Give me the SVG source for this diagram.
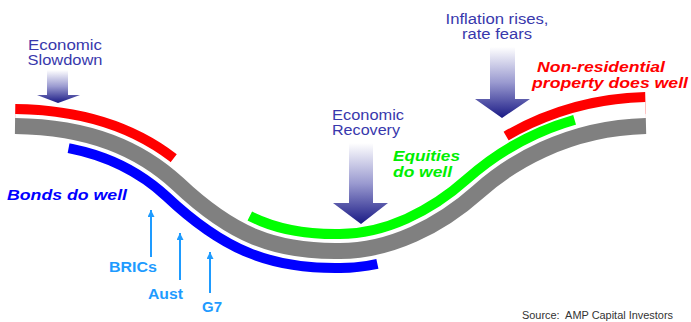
<svg xmlns="http://www.w3.org/2000/svg" width="691" height="322" viewBox="0 0 691 322">
<defs>
<style>
.lbl{font-family:"Liberation Sans",Arial,sans-serif;font-size:14px;fill:#3838ac}
.bi{font-family:"Liberation Sans",Arial,sans-serif;font-size:15px;font-weight:bold;font-style:italic}
.lb{font-family:"Liberation Sans",Arial,sans-serif;font-size:14px;font-weight:bold;fill:#1e9bff}
.src{font-family:"Liberation Sans",Arial,sans-serif;font-size:10px;fill:#333333}
.big{fill:url(#ag)}
.thin{stroke:#1e9bff;stroke-width:2;fill:none;marker-end:url(#ah)}
</style>
<path id="c" d="M15,126 C90,127 140,149 178,184 C232,235 275,252 340,251 C390,251 440,226 478,192 C508,165 565,128 646,126"/>
<clipPath id="up"><path d="M-20,126 L15,126 C90,127 140,149 178,184 C232,235 275,252 340,251 C390,251 440,226 478,192 C508,165 565,128 646,126 L720,126 L720,-20 L-20,-20 Z"/></clipPath>
<clipPath id="dn"><path d="M-20,126 L15,126 C90,127 140,149 178,184 C232,235 275,252 340,251 C390,251 440,226 478,192 C508,165 565,128 646,126 L720,126 L720,340 L-20,340 Z"/></clipPath>
<linearGradient id="ag" x1="0" y1="0" x2="0" y2="1">
<stop offset="0" stop-color="#ffffff"/>
<stop offset="0.5" stop-color="#9a9ad0"/>
<stop offset="1" stop-color="#1a1a85"/>
</linearGradient>
<marker id="ah" viewBox="0 0 8 8" refX="8" refY="4" markerWidth="7" markerHeight="7" markerUnits="userSpaceOnUse" orient="auto">
<path d="M0,0 L8,4 L0,8 Z" fill="#1e9bff"/>
</marker>
</defs>
<rect width="691" height="322" fill="#ffffff"/>
<g id="bands" fill="none">
<use href="#c" stroke="#ff0000" stroke-width="68" stroke-dasharray="0 564 200 2000" clip-path="url(#up)"/>
<use href="#c" stroke="#ffffff" stroke-width="48"/>
<use href="#c" stroke="#00ff00" stroke-width="44" stroke-dasharray="0 257 371 2000" clip-path="url(#up)"/>
<use href="#c" stroke="#ff0000" stroke-width="44" stroke-dasharray="158 2000" clip-path="url(#up)"/>
<use href="#c" stroke="#0000ff" stroke-width="44" stroke-dasharray="0 57 335 2000" clip-path="url(#dn)"/>
<use href="#c" stroke="#ffffff" stroke-width="24"/>
<use href="#c" stroke="#808080" stroke-width="16"/>
</g>
<g id="connectors">
<polygon id="arrow-slowdown" class="big" points="47,70 68,70 68,95 80,95 58,103 37,95 47,95"/>
<polygon id="arrow-recovery" class="big" points="349,143 373,143 373,203 388,203 361,224 333,203 349,203"/>
<polygon id="arrow-inflation" class="big" points="490,47 515,47 515,99 530,99 502,118 475,99 490,99"/>
<line class="thin" x1="151" y1="257" x2="151" y2="210"/>
<line class="thin" x1="180" y1="280" x2="180" y2="233"/>
<line class="thin" x1="210" y1="293" x2="210" y2="252"/>
</g>
<g id="slowdown">
<text class="lbl" x="65" y="50" text-anchor="middle" textLength="74" lengthAdjust="spacingAndGlyphs">Economic</text>
<text class="lbl" x="65" y="65" text-anchor="middle" textLength="75" lengthAdjust="spacingAndGlyphs">Slowdown</text>
</g>
<g id="recovery">
<text class="lbl" x="332" y="120" textLength="72" lengthAdjust="spacingAndGlyphs">Economic</text>
<text class="lbl" x="332" y="135" textLength="68" lengthAdjust="spacingAndGlyphs">Recovery</text>
</g>
<g id="inflation">
<text class="lbl" x="497" y="24" text-anchor="middle" textLength="103" lengthAdjust="spacingAndGlyphs">Inflation rises,</text>
<text class="lbl" x="497" y="39" text-anchor="middle" textLength="70" lengthAdjust="spacingAndGlyphs">rate fears</text>
</g>
<g id="property">
<text class="bi" x="537" y="72" fill="#ff0000" textLength="128" lengthAdjust="spacingAndGlyphs">Non-residential</text>
<text class="bi" x="532" y="88" fill="#ff0000" textLength="156" lengthAdjust="spacingAndGlyphs">property does well</text>
</g>
<g id="equities">
<text class="bi" x="393" y="161" fill="#00ee00" textLength="67" lengthAdjust="spacingAndGlyphs">Equities</text>
<text class="bi" x="393" y="177" fill="#00ee00" textLength="59" lengthAdjust="spacingAndGlyphs">do well</text>
</g>
<g id="bonds">
<text class="bi" x="7" y="200" fill="#0000ff" textLength="120" lengthAdjust="spacingAndGlyphs">Bonds do well</text>
</g>
<g id="brics"><text class="lb" x="109" y="272" textLength="48" lengthAdjust="spacingAndGlyphs">BRICs</text></g>
<g id="aust"><text class="lb" x="148" y="299" textLength="35" lengthAdjust="spacingAndGlyphs">Aust</text></g>
<g id="g7"><text class="lb" x="202" y="312" textLength="20" lengthAdjust="spacingAndGlyphs">G7</text></g>
<g id="source"><text class="src" x="522" y="319" textLength="151" lengthAdjust="spacingAndGlyphs">Source:&#160; AMP Capital Investors</text></g>
</svg>
